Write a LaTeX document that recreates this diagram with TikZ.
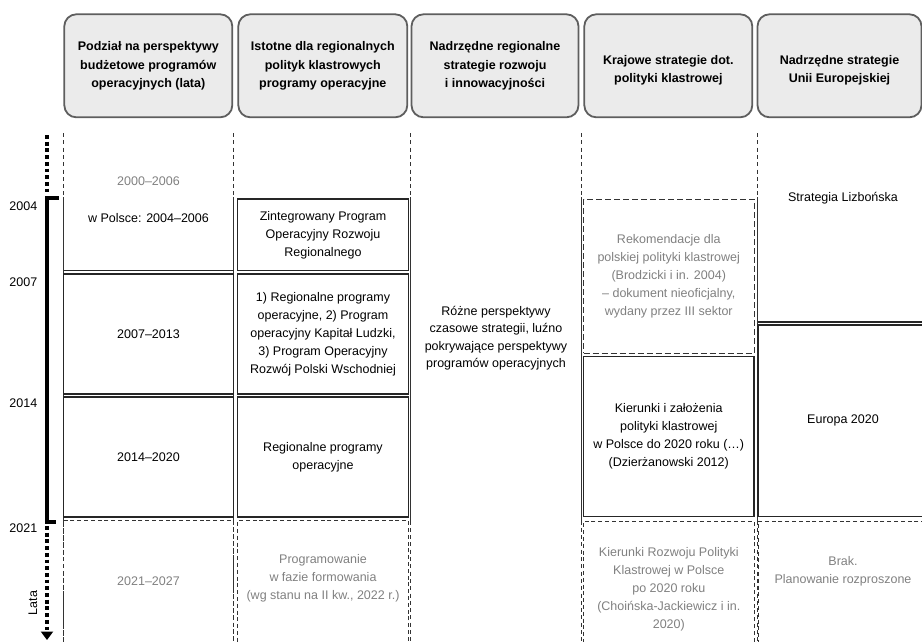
\documentclass[tikz,border=0pt]{standalone}
\usepackage{fontspec}
\setmainfont{Liberation Sans}
\usetikzlibrary{arrows.meta,positioning}

\newcommand{\tekst}{\fontsize{12.5}{18}\selectfont}
\newcommand{\tekstc}{\fontsize{12.5}{17.5}\selectfont}
\newcommand{\nagl}{\bfseries\fontsize{12.5}{18.5}\selectfont}

\tikzset{
  head/.style={draw=black!63, line width=1.8pt, fill=black!8, rounded corners=12pt,
    minimum height=103pt, inner sep=0pt, align=center, font=\nagl},
  headtxt/.style={align=center, font=\nagl, inner sep=0pt, yshift=-4.5pt},
  cell/.style={draw=black!85, line width=1.1pt, anchor=north west, inner sep=0pt,
    outer sep=0pt, align=center, font=\tekst},
  plan/.style={cell, draw=black!80, line width=0.9pt, dash pattern=on 4pt off 2.8pt},
  szkic/.style={cell, draw=black!80, line width=0.9pt, dash pattern=on 6pt off 3pt, text=black!50},
  ramka/.style={draw=black!85, line width=1.1pt},
  txt/.style={align=center, font=\tekst, inner sep=0pt},
  gtxt/.style={txt, text=black!50},
  rok/.style={anchor=east, font=\tekst, inner sep=0pt},
  sep/.style={draw=black!80, line width=0.9pt},
  sepd/.style={sep, dash pattern=on 4pt off 3.3pt},
  os/.style={line width=3.8pt},
  osd/.style={os, dash pattern=on 3.8pt off 2.9pt}
}

\begin{document}
\begin{tikzpicture}[x=1pt,y=-1pt]
  \useasboundingbox (0,0) rectangle (922,641);

  \node[head, minimum width=168pt] (h1) at (148.3,65.8) {Podział na perspektywy\\budżetowe programów\\operacyjnych (lata)};
  \node[head, minimum width=169pt] (h2) at (322.8,65.8) {Istotne dla regionalnych\\polityk klastrowych\\programy operacyjne};
  \node[head, minimum width=167pt] (h3) at (495,65.8) {Nadrzędne regionalne\\strategie rozwoju\\i innowacyjności};
  \node[head, minimum width=168pt,
    label={[headtxt]center:Krajowe strategie dot.\\polityki klastrowej}] (h4) at (668.3,65.8) {};
  \node[head, minimum width=164pt,
    label={[headtxt]center:Nadrzędne strategie\\Unii Europejskiej}] (h5) at (839.5,65.8) {};

  \foreach \x in {63.5,233.5,410.7,581,757.8} {
    \draw[sepd] (\x,133) -- (\x,197);
    \draw[sep] (\x,197) -- (\x,520.5);
    \draw[sepd] (\x,520.5) -- (\x,641);
  }

  \draw[osd] (47,135) -- (47,193);
  \draw[os] (58.5,198) -- (47,198) -- (47,522) -- (56,522);
  \draw[osd, -{Triangle[width=12pt,length=8.5pt]}] (47,526) -- (47,640);
  \node[rok] (r2004) at (37.5,206.5) {2004};
  \node[rok] (r2007) at (37.5,281.7) {2007};
  \node[rok] (r2014) at (37.5,403) {2014};
  \node[rok] (r2021) at (37.5,527.7) {2021};
  \node[txt, rotate=90] (lata) at (33,603) {Lata};

  \node[gtxt] (p0006) at (148.5,181.3) {2000–2006};
  \node[txt] (wp) at (148.5,218) {w Polsce: 2004–2006};
  \draw[ramka] (63.5,270.7) -- (233.5,270.7);
  \node[cell, minimum width=170pt, minimum height=120pt] (p0713) at (63.5,274) {2007–2013};
  \node[cell, minimum width=170pt, minimum height=120pt] (p1420) at (63.5,397) {2014–2020};
  \node[plan, minimum width=170pt, minimum height=140pt] (p2127) at (63.5,520.5) {};
  \node[gtxt] (t2127) at (148.5,581.5) {2021–2027};

  \node[cell, minimum width=170.6pt, minimum height=71.7pt] (zporr) at (237.7,199) {Zintegrowany Program\\Operacyjny Rozwoju\\Regionalnego};
  \node[cell, minimum width=170.6pt, minimum height=120pt] (po0713) at (237.7,274) {1) Regionalne programy\\operacyjne, 2) Program\\operacyjny Kapitał Ludzki,\\3) Program Operacyjny\\Rozwój Polski Wschodniej};
  \node[cell, minimum width=170.6pt, minimum height=120pt] (rpo) at (237.7,397) {Regionalne programy\\operacyjne};
  \node[plan, minimum width=170.6pt, minimum height=140pt] (prog) at (237.7,520.5) {};
  \node[gtxt] (tprog) at (323,578) {Programowanie\\w fazie formowania\\(wg stanu na II kw., 2022 r.)};

  \node[txt, font=\tekstc] (rozne) at (496,338) {Różne perspektywy\\czasowe strategii, luźno\\pokrywające perspektywy\\programów operacyjnych};

  \node[szkic, minimum width=170.5pt, minimum height=154pt] (rek) at (583.5,199) {Rekomendacje dla\\polskiej polityki klastrowej\\(Brodzicki i in. 2004)\\– dokument nieoficjalny,\\wydany przez III sektor};
  \node[cell, minimum width=170.5pt, minimum height=160pt] (kier) at (583.5,356.7) {Kierunki i założenia\\polityki klastrowej\\w Polsce do 2020 roku (…)\\(Dzierżanowski 2012)};
  \node[plan, minimum width=170.5pt, minimum height=140pt] (krp) at (583.5,521.5) {};
  \node[gtxt] (tkrp) at (668.8,589.5) {Kierunki Rozwoju Polityki\\Klastrowej w Polsce\\po 2020 roku\\(Choińska-Jackiewicz i in.\\2020)};

  \node[txt] (liz) at (843,198) {Strategia Lizbońska};
  \draw[ramka] (757.8,322) -- (925,322);
  \node[cell, minimum width=170pt, minimum height=191.5pt] (eu) at (758,325) {Europa 2020};
  \node[plan, minimum width=170pt, minimum height=140pt] (brak) at (758,521.5) {};
  \node[gtxt] (tbrak) at (843,571) {Brak.\\Planowanie rozproszone};
\end{tikzpicture}
\end{document}
